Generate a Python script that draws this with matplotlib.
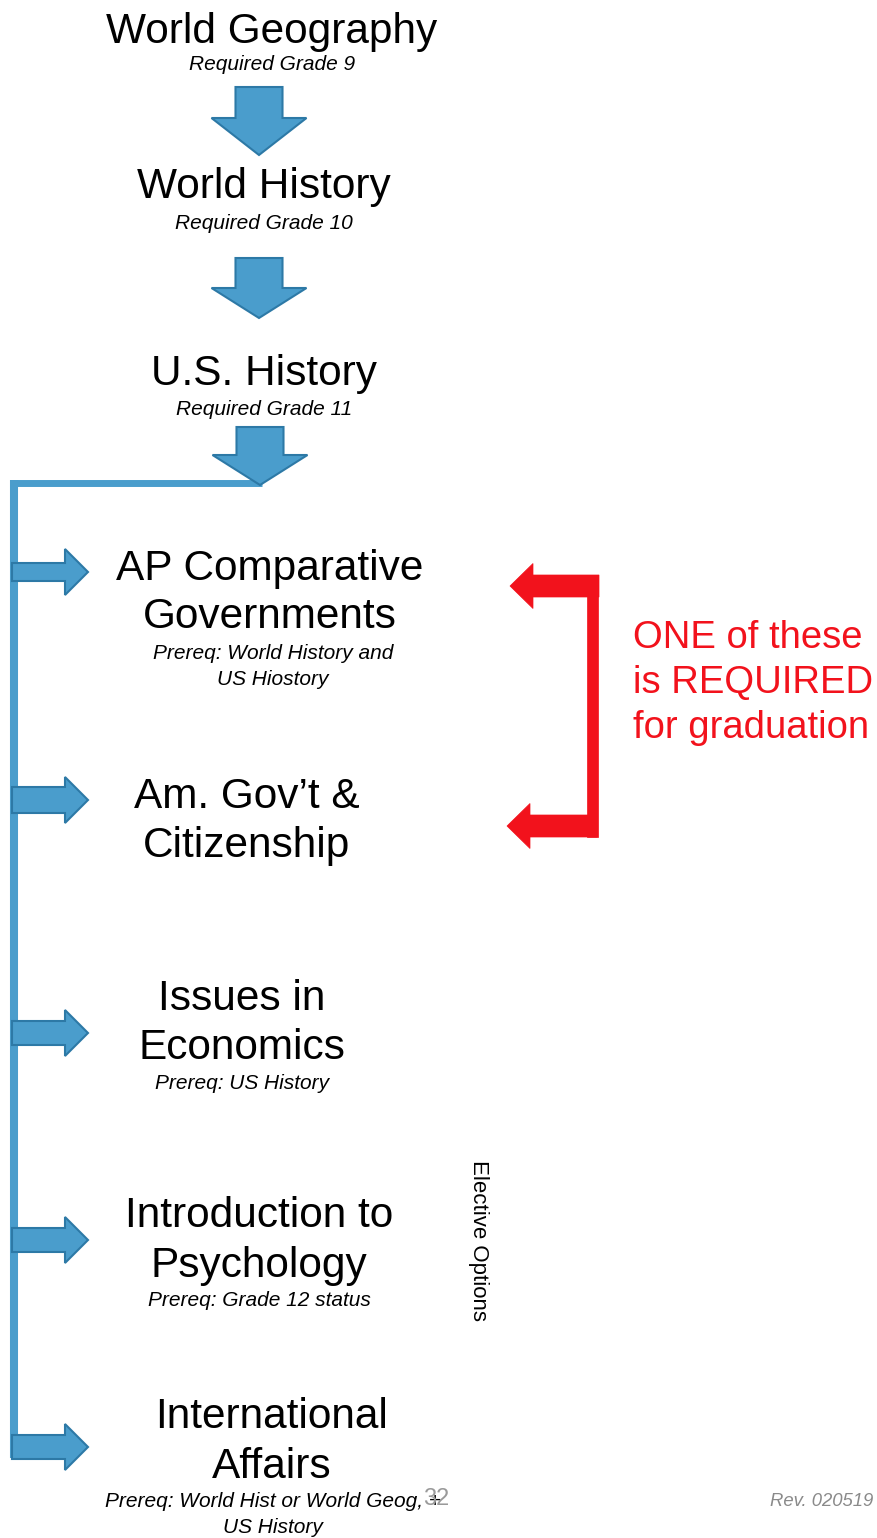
import matplotlib.pyplot as plt
from matplotlib.patches import Polygon

# Course sequence (required core)
core_titles = ["World Geography", "World History", "U.S. History"]
core_notes = ["Required Grade 9", "Required Grade 10", "Required Grade 11"]

# Options branching off the U.S. History line
option_titles = [
    ["AP Comparative", "Governments"],
    ["Am. Gov\u2019t &", "Citizenship"],
    ["Issues in", "Economics"],
    ["Introduction to", "Psychology"],
    ["International", "Affairs"],
]
option_notes = [
    ["Prereq: World History and", "US Hiostory"],
    [],
    ["Prereq: US History"],
    ["Prereq: Grade 12 status"],
    ["Prereq: World Hist or World Geog, +", "US History"],
]
required_note = ["ONE of these", "is REQUIRED", "for graduation"]

# layout (pixel coordinates, y downwards)
core_x = [272, 264, 264]
core_title_y = [43, 198, 385]
core_note_y = [70, 229, 415]
down_arrows = [(87, 118, 155), (258, 288, 318), (427, 455, 485)]

opt_x = [270, 247, 242, 259, 272]
opt_title_y = [(580, 628), (808, 857), (1010, 1059), (1227, 1277), (1428, 1478)]
opt_note_y = [(659, 685), (), (1089,), (1306,), (1507, 1533)]
opt_note_x = [273, 247, 242, 259, 273]
right_arrows = [(572, 9), (800, 13), (1033, 12), (1240, 12), (1447, 12)]

BLUE = "#4a9dcc"
BLUE_EDGE = "#2d79a6"
RED = "#f2121c"
FONT = "Liberation Sans"

fig = plt.figure(figsize=(8.78, 15.38), dpi=100)
ax = fig.add_axes([0, 0, 1, 1])
ax.set_xlim(0, 878)
ax.set_ylim(1538, 0)
ax.axis("off")


def down_arrow(cx, y0, y1, y2, sw=23.5, hw=47.5):
    pts = [(cx - sw, y0), (cx + sw, y0), (cx + sw, y1), (cx + hw, y1),
           (cx, y2), (cx - hw, y1), (cx - sw, y1)]
    ax.add_patch(Polygon(pts, closed=True, fc=BLUE, ec=BLUE_EDGE, lw=1.5, zorder=3))


def right_arrow(cy, sw, x0=12, x1=65, x2=88, hw=23):
    pts = [(x0, cy - sw), (x1, cy - sw), (x1, cy - hw), (x2, cy),
           (x1, cy + hw), (x1, cy + sw), (x0, cy + sw)]
    ax.add_patch(Polygon(pts, closed=True, fc=BLUE, ec=BLUE_EDGE, lw=1.5, zorder=3))


def left_arrow(cy, tip, back, right, sw=11, hw=22.5):
    pts = [(tip, cy), (back, cy - hw), (back, cy - sw), (right, cy - sw),
           (right, cy + sw), (back, cy + sw), (back, cy + hw)]
    ax.add_patch(Polygon(pts, closed=True, fc=RED, ec=RED, lw=0.5, zorder=3))


# core sequence
for i, t in enumerate(core_titles):
    ax.text(core_x[i], core_title_y[i], t, fontsize=30.5, family=FONT,
            ha="center", va="baseline")
    ax.text(core_x[i], core_note_y[i], core_notes[i], fontsize=15, family=FONT,
            style="italic", ha="center", va="baseline")
for cx, (y0, y1, y2) in zip([259, 259, 260], down_arrows):
    down_arrow(cx, y0, y1, y2)

# connector line
ax.plot([14, 262], [483, 483], color=BLUE, lw=5, solid_capstyle="butt", zorder=2)
ax.plot([14, 14], [480, 1458], color=BLUE, lw=5.8, solid_capstyle="butt", zorder=2)

# options
for i, lines in enumerate(option_titles):
    for line, y in zip(lines, opt_title_y[i]):
        ax.text(opt_x[i], y, line, fontsize=30.5, family=FONT,
                ha="center", va="baseline")
    for line, y in zip(option_notes[i], opt_note_y[i]):
        ax.text(opt_note_x[i], y, line, fontsize=15, family=FONT,
                style="italic", ha="center", va="baseline")
for cy, sw in right_arrows:
    right_arrow(cy, sw)

# red bracket
left_arrow(586, 510, 533, 599)
left_arrow(826, 507, 530, 597)
ax.add_patch(Polygon([(587, 580), (598, 580), (598, 837), (587, 837)],
                     closed=True, fc=RED, ec=RED, lw=0.5, zorder=3))
for j, line in enumerate(required_note):
    ax.text(633, 648 + 45 * j, line, fontsize=27.5, family=FONT, color=RED,
            ha="left", va="baseline")

# side labels / footer
ax.text(479, 1240, "Elective Options", fontsize=16, family=FONT, rotation=270,
        ha="center", va="center")
ax.text(436, 1505, "32", fontsize=17, family=FONT, color="#9a9a9a",
        ha="center", va="baseline")
ax.text(873, 1506, "Rev. 020519", fontsize=13.3, family=FONT, color="#8a8a8a",
        style="italic", ha="right", va="baseline")

fig.savefig("out.png", dpi=100, facecolor="white")
